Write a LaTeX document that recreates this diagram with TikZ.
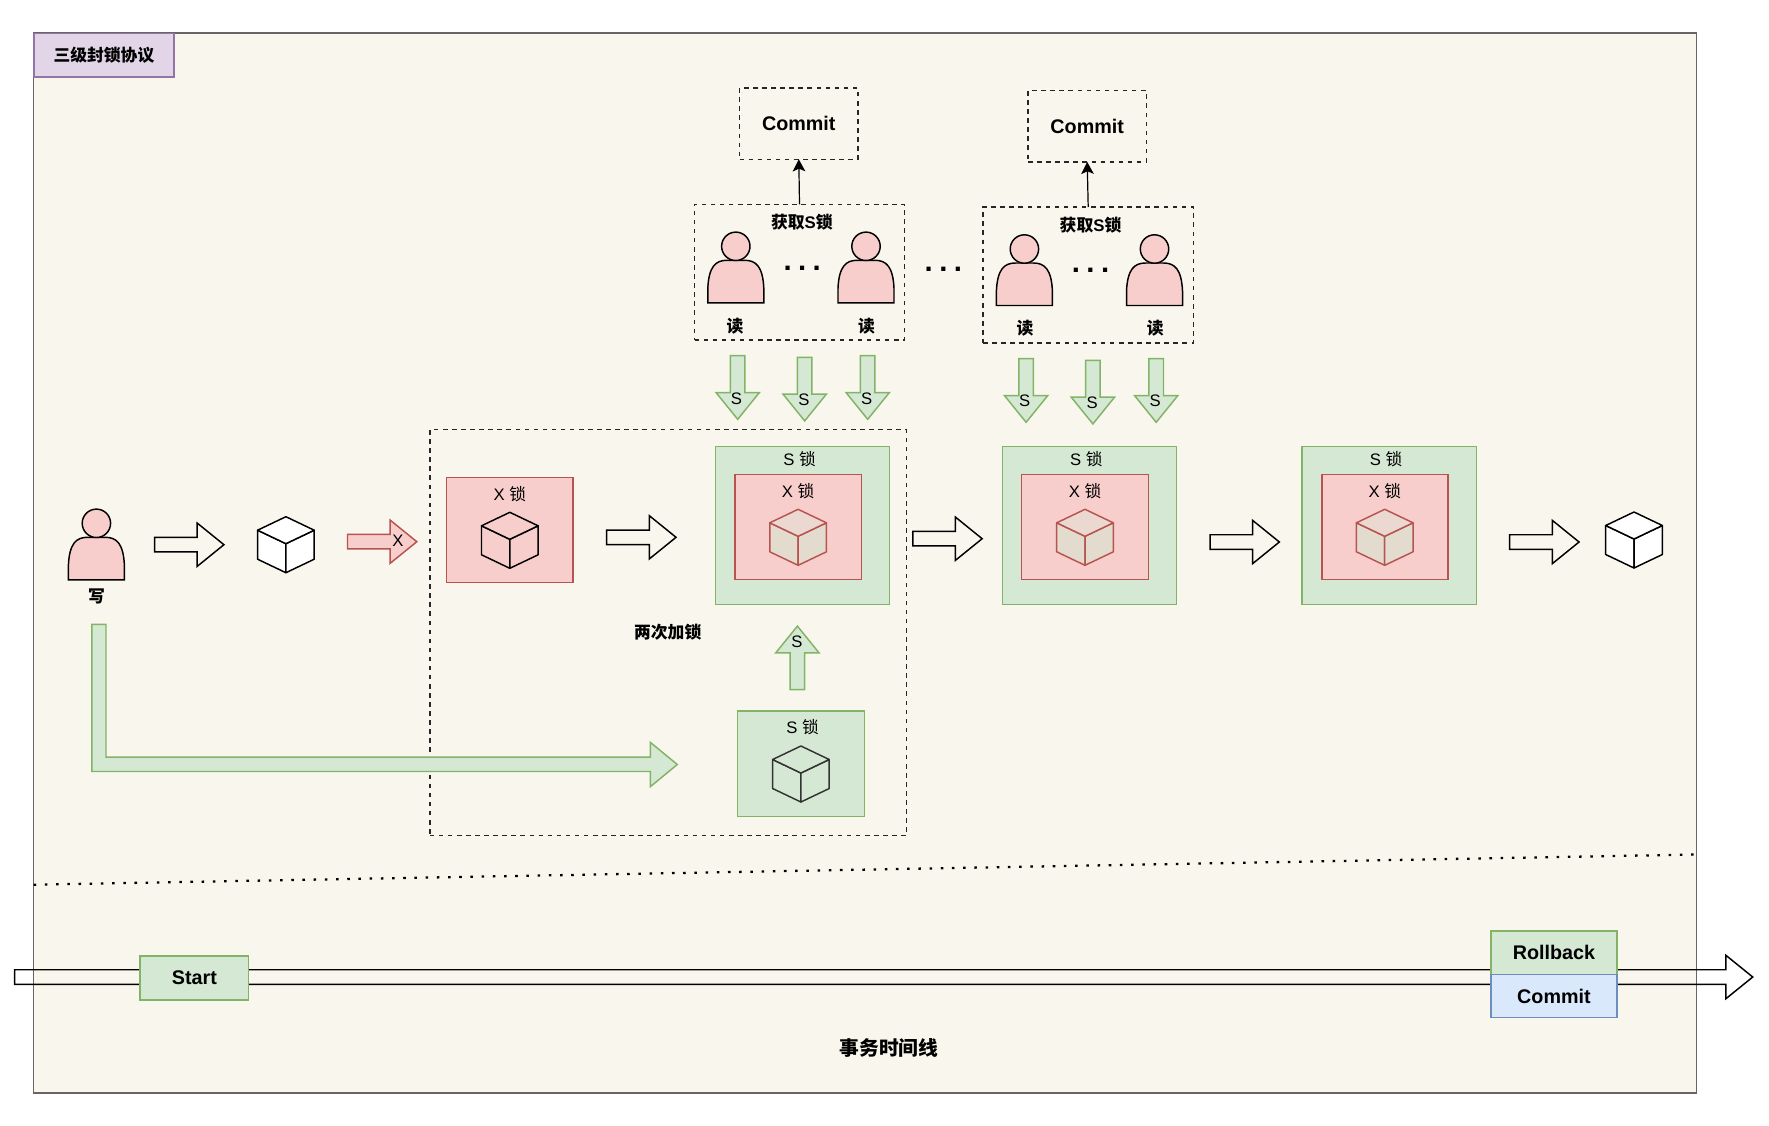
\documentclass[tikz,border=0pt]{standalone}
\usepackage{fontspec}
\setmainfont{Liberation Sans}
\newfontfamily\cjk{Noto Sans CJK SC}
\usetikzlibrary{shapes,shapes.arrows,arrows.meta}
\definecolor{paper}{HTML}{F9F7ED}
\definecolor{gfill}{HTML}{D5E8D4}
\definecolor{gline}{HTML}{82B366}
\definecolor{rfill}{HTML}{F8CECC}
\definecolor{rline}{HTML}{B85450}
\definecolor{bfill}{HTML}{DAE8FC}
\definecolor{bline}{HTML}{6C8EBF}
\definecolor{pfill}{HTML}{E1D5E7}
\definecolor{pline}{HTML}{9673A6}
\definecolor{mixface}{HTML}{E3DBCE}
\definecolor{mixtop}{HTML}{EBD8D0}
\newcommand{\threedots}{.\kern4.85pt.\kern4.85pt.}
% cube: centre x, top y, line, side fill, top fill
\newcommand{\drawcube}[5]{
\begin{scope}[shift={(#1,#2)},line width=1.1pt,draw=#3,line join=round]
\draw[fill=#4] (-28.3,13.5) -- (0,27) -- (0,56) -- (-28.3,42.5) -- cycle;
\draw[fill=#4] (28.3,13.5) -- (0,27) -- (0,56) -- (28.3,42.5) -- cycle;
\draw[fill=#5] (-28.3,13.5) -- (0,0) -- (28.3,13.5) -- (0,27) -- cycle;
\end{scope}}
% person: centre x, centre y of the head
\newcommand{\drawperson}[2]{
\begin{scope}[shift={(#1,#2)},line width=1.1pt,draw=black,fill=rfill]
\filldraw (-28,56.5) -- (-28,42) .. controls (-27,20) and (-20,14) .. (-9,14) -- (9,14) .. controls (20,14) and (27,20) .. (28,42) -- (28,56.5) -- cycle;
\filldraw (0,0) circle (14.2);
\end{scope}}

\begin{document}
\begin{tikzpicture}[x=0.75pt,y=-0.75pt]
\tikzstyle{every node}=[inner sep=0pt,outer sep=0pt]
\tikzstyle{txt}=[font=\fontsize{12.5}{14}\selectfont]
\tikzstyle{bold}=[font=\fontsize{12.6}{15}\selectfont\bfseries]
\tikzstyle{big}=[font=\fontsize{14.8}{17}\selectfont\bfseries]
\tikzstyle{dots}=[font=\fontsize{22}{22}\selectfont\bfseries]
\tikzstyle{dashbox}=[draw=black!85,line width=1.1pt,dash pattern=on 3.4pt off 3.4pt]
\tikzstyle{greenbox}=[draw=gline,fill=gfill,line width=1.1pt]
\tikzstyle{redbox}=[draw=rline,fill=rfill,line width=1.1pt]
\tikzstyle{block}=[single arrow,inner sep=4.9pt,line width=1.1pt,line join=miter,anchor=tail,minimum width=32pt,single arrow head extend=10.8pt,single arrow head indent=0pt,single arrow tip angle=78]
\tikzstyle{goright}=[block,draw=black,fill=paper,minimum height=52pt]
\tikzstyle{godown}=[block,draw=gline,fill=gfill,minimum height=47.7pt,shape border rotate=270]
\useasboundingbox (0,0) rectangle (1769,1125);
\node[draw=black!60,fill=paper,line width=1.1pt,minimum width=1247.25pt,minimum height=795pt] (frame) at (865.2,563.2) {};
\node[draw=pline,fill=pfill,line width=1.1pt,minimum width=105.2pt,minimum height=32.8pt,bold] (title) at (103.9,55.2) {\cjk 三级封锁协议};
% first write
\drawperson{96.4}{523.3}
\node[bold] (writer) at (96.4,596.7) {\cjk 写};
\node[goright] (stepa) at (154.6,544.7) {};
\drawcube{285.9}{516.7}{black}{white}{white}
\node[block,draw=rline,fill=rfill,minimum height=52pt] (xarrow) at (347.5,541.7) {};
\node[txt] (xmark) at (398,541) {X};
% twice locked
\node[dashbox,minimum width=357.6pt,minimum height=304.5pt] (twice) at (668.2,632.7) {};
\node[redbox,minimum width=94.7pt,minimum height=79pt] (xbox) at (509.8,530) {};
\node[txt] (xtext) at (509.8,494) {X {\cjk 锁}};
\drawcube{509.8}{512.3}{black}{rfill}{rfill}
\node[goright] (stepb) at (606.7,537.3) {};
\node[bold] (twicetext) at (667.7,632.3) {\cjk 两次加锁};
% green path from the writer
\draw[draw=gline,fill=gfill,line width=1.1pt] (91.8,624.3) -- (106,624.3) -- (106,757.2) -- (650.3,757.2) -- (650.3,742.3) -- (677.3,764.5) -- (650.3,786.7) -- (650.3,771.5) -- (91.8,771.5) -- cycle;
\node[greenbox,minimum width=95pt,minimum height=79pt] (sbox) at (800.9,763.7) {};
\node[txt] (stext) at (802.6,726.7) {S {\cjk 锁}};
\drawcube{800.9}{746}{black!80}{gfill}{gfill}
\node[block,draw=gline,fill=gfill,minimum height=47.7pt,shape border rotate=90] (sup) at (797.4,689.7) {};
\node[txt] (suptext) at (797,641.7) {S};
% locks, one after the other
\node[greenbox,minimum width=130.4pt,minimum height=118.8pt] (sxa) at (802.5,525.5) {};
\node[txt] (sxas) at (799.5,458.7) {S {\cjk 锁}};
\node[redbox,minimum width=94.8pt,minimum height=79pt] (sxai) at (798.3,527) {};
\node[txt] (sxax) at (798.1,491) {X {\cjk 锁}};
\drawcube{798.1}{509.3}{rline}{mixface}{mixtop}
\node[goright] (stepc) at (912.8,538.7) {};
\node[greenbox,minimum width=130.4pt,minimum height=118.8pt] (sxb) at (1089.3,525.5) {};
\node[txt] (sxbs) at (1086.3,458.7) {S {\cjk 锁}};
\node[redbox,minimum width=95pt,minimum height=79pt] (sxbi) at (1085,527) {};
\node[txt] (sxbx) at (1085,491) {X {\cjk 锁}};
\drawcube{1085}{509.3}{rline}{mixface}{mixtop}
\node[goright] (stepd) at (1210,542) {};
\node[greenbox,minimum width=130.7pt,minimum height=118.8pt] (sxc) at (1389.2,525.5) {};
\node[txt] (sxcs) at (1386,458.7) {S {\cjk 锁}};
\node[redbox,minimum width=94.7pt,minimum height=79pt] (sxci) at (1384.9,527) {};
\node[txt] (sxcx) at (1384.7,491) {X {\cjk 锁}};
\drawcube{1384.7}{509.3}{rline}{mixface}{mixtop}
\node[goright] (stepe) at (1509.7,542) {};
\drawcube{1634}{512}{black}{white}{white}
% first readers
\node[dashbox,minimum width=157.5pt,minimum height=101.8pt] (reada) at (799.5,272.2) {};
\node[bold] (readat) at (801.9,222.3) {{\cjk 获取}S{\cjk 锁}};
\drawperson{735.8}{246.3}
\drawperson{866}{246.3}
\node[dots] (readad) at (802.2,268.5) {\threedots};
\node[bold] (readaa) at (735.1,326) {\cjk 读};
\node[bold] (readab) at (866.6,326) {\cjk 读};
\node[dashbox,minimum width=88.8pt,minimum height=53.5pt,big] (commita) at (798.8,123.7) {Commit};
\draw[-{Stealth[length=9pt,width=9.5pt,inset=2pt]},line width=0.9pt] (reada.north) -- (commita.south);
\node[dots] (between) at (943.4,269.5) {\threedots};
% second readers
\node[dashbox,minimum width=157.8pt,minimum height=102pt] (readb) at (1088.2,275) {};
\node[bold] (readbt) at (1090.5,225) {{\cjk 获取}S{\cjk 锁}};
\drawperson{1024.4}{249}
\drawperson{1154.5}{249}
\node[dots] (readbd) at (1090.5,270.5) {\threedots};
\node[bold] (readba) at (1025,328.3) {\cjk 读};
\node[bold] (readbb) at (1155.2,328.3) {\cjk 读};
\node[dashbox,minimum width=88.7pt,minimum height=53.5pt,big] (commitb) at (1087.2,126.3) {Commit};
\draw[-{Stealth[length=9pt,width=9.5pt,inset=2pt]},line width=0.9pt] (readb.north) -- (commitb.south);
% S arrows
\node[godown] (sa) at (737.7,355.7) {};
\node[txt] at (736.5,398.3) (sat) {S};
\node[godown] (sb) at (804.7,357.3) {};
\node[txt] at (804,400) (sbt) {S};
\node[godown] (sc) at (867.7,355.7) {};
\node[txt] at (866.6,398.3) (sct) {S};
\node[godown] (sd) at (1026.1,358.7) {};
\node[txt] at (1024.7,401) (sdt) {S};
\node[godown] (se) at (1092.9,360.3) {};
\node[txt] at (1092.2,402.7) (set) {S};
\node[godown] (sf) at (1156.2,358.7) {};
\node[txt] at (1155.2,401) (sft) {S};
% dotted line and time line
\coordinate (cuta) at (33.7,884.7);
\coordinate (cutb) at (1696.7,854.5);
\draw[line width=1.7pt,dash pattern=on 1.9pt off 6.5pt] (cuta) -- (cutb);
\node[block,draw=black,minimum height=1303.5pt] (timeline) at (14.7,977) {};
\node[greenbox,minimum width=81.5pt,minimum height=33pt,big] (start) at (194.4,978) {Start};
\node[greenbox,minimum width=94.3pt,minimum height=32.5pt,big] (rollback) at (1553.9,952.7) {Rollback};
\node[draw=bline,fill=bfill,line width=1.1pt,minimum width=94.3pt,minimum height=32.5pt,big] (commitc) at (1553.9,996) {Commit};
\node[big] (timetext) at (889,1047.7) {\cjk 事务时间线};
\end{tikzpicture}
\end{document}
